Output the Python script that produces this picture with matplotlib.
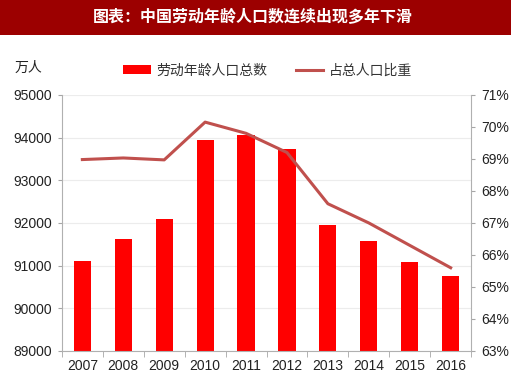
import matplotlib.pyplot as plt
import numpy as np
from matplotlib.patches import Rectangle

plt.rcParams['font.family'] = ['Liberation Sans', 'Noto Sans CJK SC', 'DejaVu Sans']

years = ['2007', '2008', '2009', '2010', '2011', '2012', '2013', '2014', '2015', '2016']
labor_pop = [91120, 91630, 92090, 93950, 94070, 93727, 91954, 91583, 91096, 90747]
labor_share = [68.98, 69.03, 68.97, 70.15, 69.8, 69.2, 67.6, 67.0, 66.3, 65.6]

fig = plt.figure(figsize=(5.2, 3.88), dpi=100)

# banner
fig.patches.append(Rectangle((0, 0.909), 0.983, 0.091, transform=fig.transFigure,
                             facecolor='#9c0000', edgecolor='none', zorder=0))
fig.text(0.487, 0.955, '图表：中国劳动年龄人口数连续出现多年下滑', color='white',
         fontsize=11.5, fontweight='bold', ha='center', va='center',
         family=['Noto Sans CJK SC', 'DejaVu Sans'])

ax = fig.add_axes([0.119, 0.0954, 0.787, 0.66])
x = np.arange(len(years))
bars = ax.bar(x, labor_pop, width=0.42, color='#ff0000', zorder=2, label='劳动年龄人口总数')
ax.set_ylim(89000, 95000)
ax.set_xlim(-0.5, len(years) - 0.5)
ax.set_yticks(np.arange(89000, 95001, 1000))
ax.yaxis.grid(True, color='#ececec', linewidth=0.8, zorder=0)
ax.set_axisbelow(True)
ax.set_xticks(x)
ax.set_xticklabels(years)
ax.set_xticks(np.arange(-0.5, len(years), 1), minor=True)
ax.tick_params(axis='x', which='major', length=0, pad=6, labelsize=10, labelcolor='#222222')
ax.tick_params(axis='x', which='minor', length=4, color='#a6a6a6')
ax.tick_params(axis='y', length=3, color='#a6a6a6', labelsize=10, labelcolor='#222222', pad=4)
for s in ['top', 'right']:
    ax.spines[s].set_visible(False)
for s in ['left', 'bottom']:
    ax.spines[s].set_color('#b0b0b0')

ax2 = ax.twinx()
line, = ax2.plot(x, labor_share, color='#c0504d', linewidth=2.2, zorder=3, label='占总人口比重')
ax2.set_ylim(63, 71)
ax2.set_yticks(np.arange(63, 72, 1))
ax2.set_yticklabels([f'{v}%' for v in range(63, 72)])
ax2.tick_params(axis='y', length=3, color='#a6a6a6', labelsize=10, labelcolor='#222222', pad=4)
for s in ['top', 'left', 'bottom']:
    ax2.spines[s].set_visible(False)
ax2.spines['right'].set_color('#b0b0b0')

fig.text(0.028, 0.825, '万人', fontsize=10, color='#222222', va='center',
         family=['Noto Sans CJK SC', 'DejaVu Sans'])

leg = fig.legend([bars, line], ['劳动年龄人口总数', '占总人口比重'], loc='center',
                 bbox_to_anchor=(0.515, 0.818), ncol=2, frameon=False,
                 prop={'family': ['Noto Sans CJK SC', 'DejaVu Sans'], 'size': 10},
                 handlelength=2.0, handleheight=0.6, columnspacing=2.0, handletextpad=0.4)
for t in leg.get_texts():
    t.set_color('#333333')

fig.savefig('out.png', dpi=100)
